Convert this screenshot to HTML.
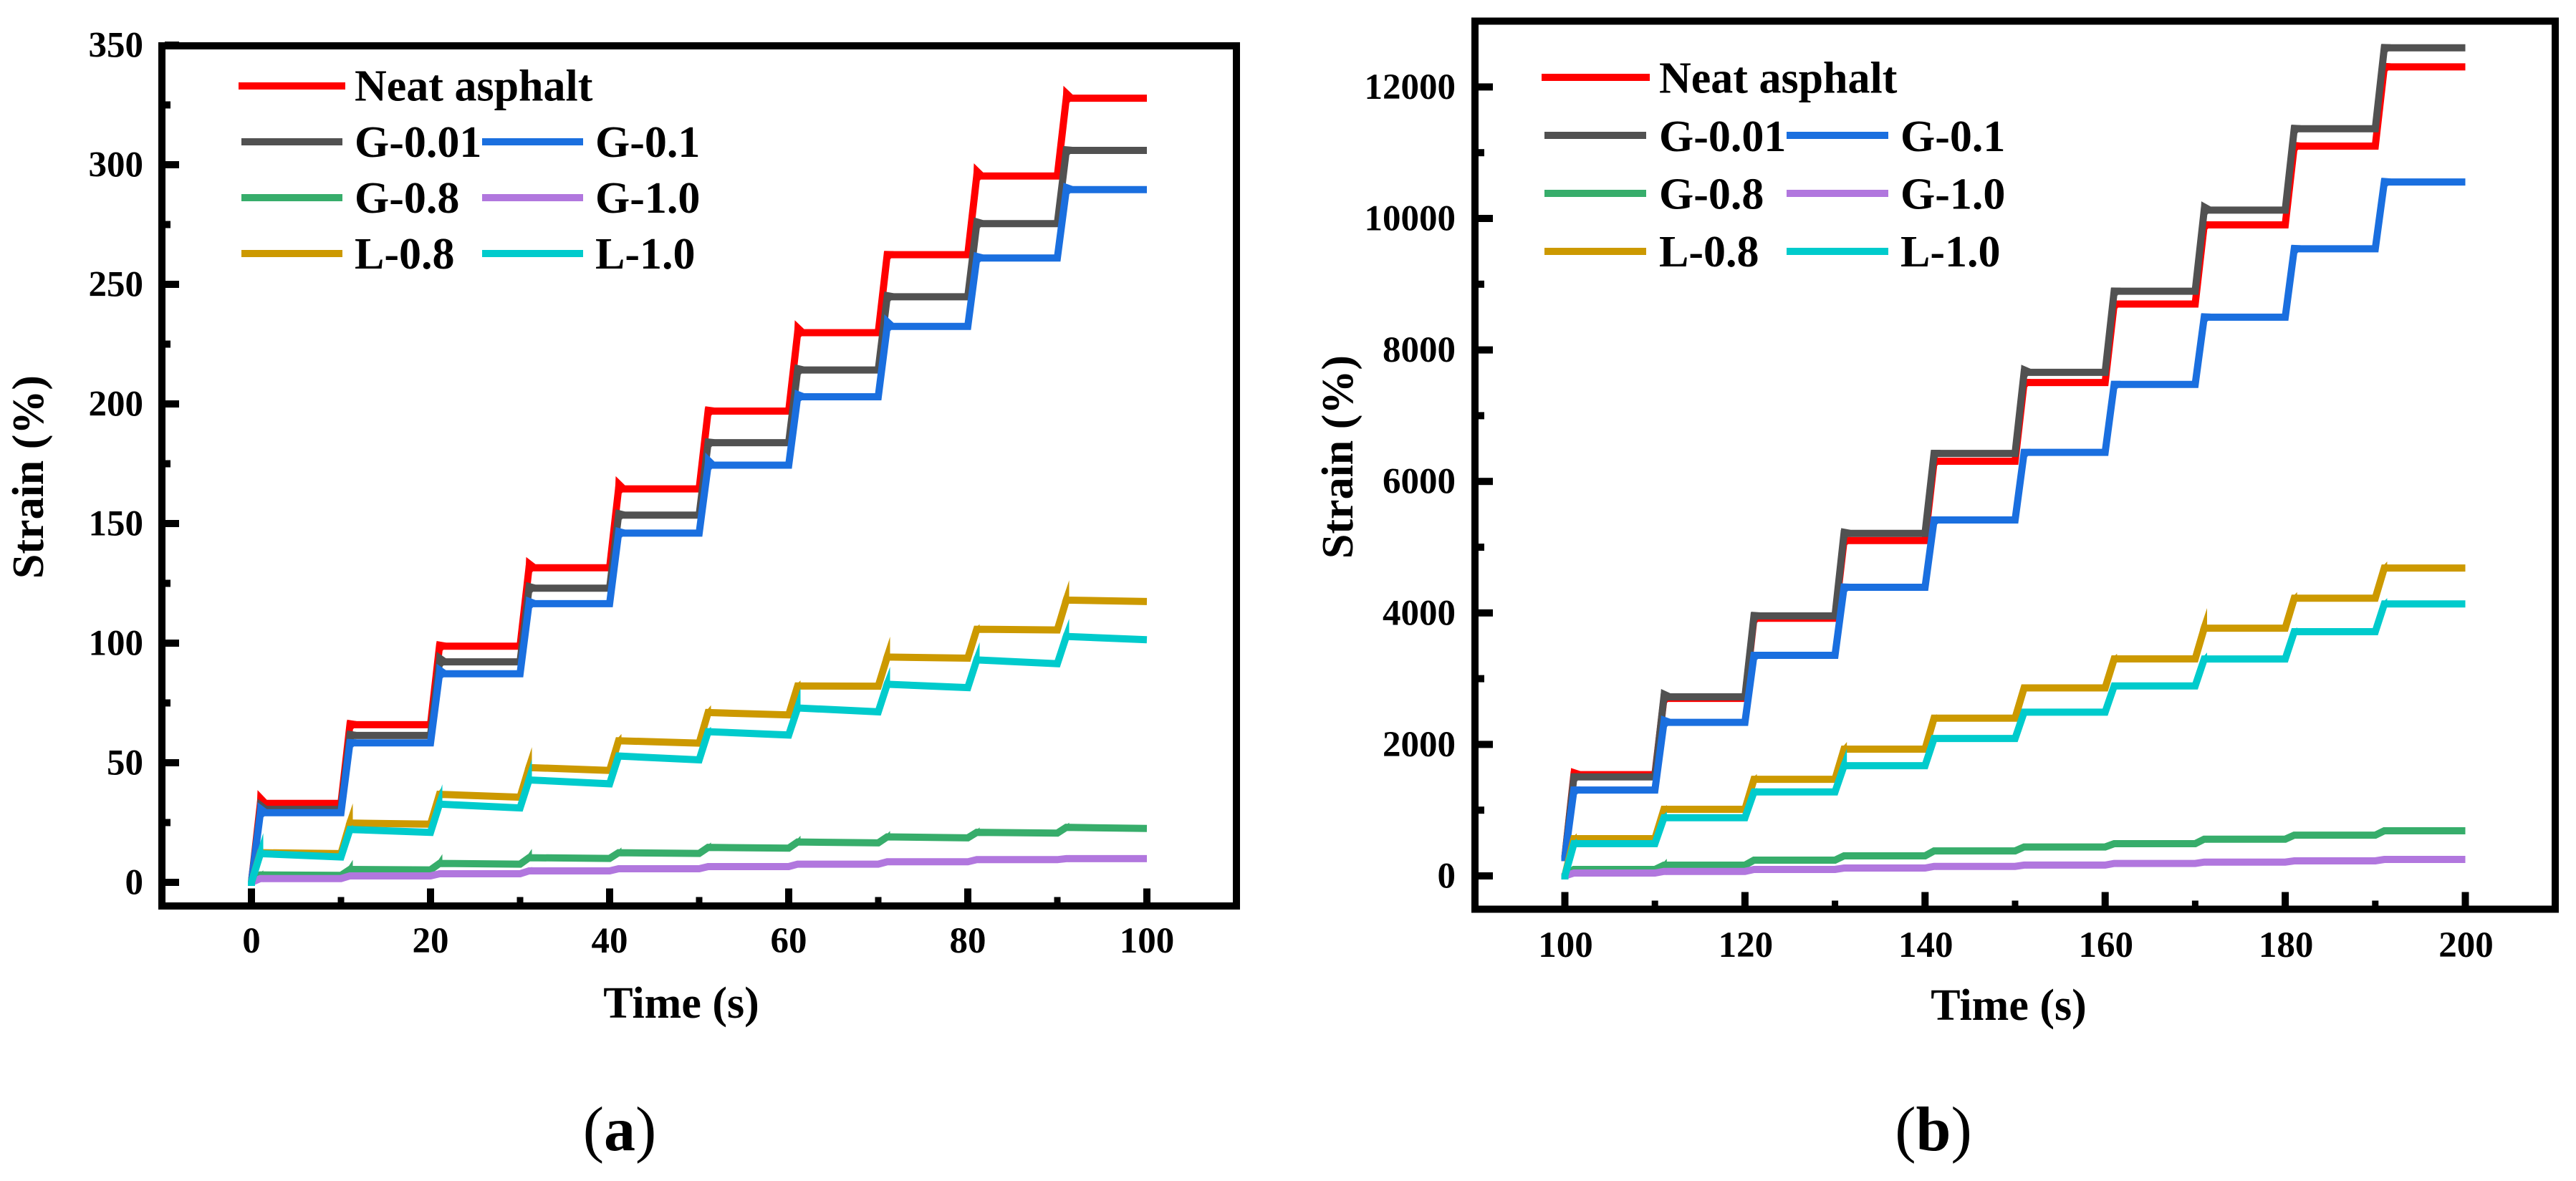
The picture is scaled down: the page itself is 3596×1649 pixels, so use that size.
<!DOCTYPE html>
<html lang="en">
<head>
<meta charset="utf-8">
<title>Strain versus time step curves</title>
<style>
html,body{margin:0;padding:0;background:#fff;width:3596px;height:1649px;overflow:hidden}
svg{display:block}
text{font-family:"Liberation Serif","Times New Roman",serif;font-weight:700;fill:#000}
.tick{font-size:51px}
.title{font-size:62px}
.leg{font-size:62px}
.cap{font-size:88px;font-weight:400}
.cap .b{font-weight:700}
</style>
</head>
<body>
<svg id="figure" xmlns="http://www.w3.org/2000/svg" width="3596" height="1649" viewBox="0 0 3596 1649">
  <g id="panel-a">
    <g id="a-series"></g>
    <rect x="226" y="64" width="1500" height="1201" fill="none" stroke="#000" stroke-width="10"/>
    <g id="a-axes"></g>
    <text class="title" x="951" y="1421" text-anchor="middle">Time (s)</text>
    <text class="title" transform="translate(60 666) rotate(-90)" text-anchor="middle">Strain (%)</text>
    <g>
      <rect x="333" y="115" width="149" height="10" fill="#ff0000"/>
      <text class="leg" x="495" y="140.5">Neat asphalt</text>
      <rect x="337" y="193" width="141" height="10" fill="#515151"/>
      <text class="leg" x="495" y="219">G-0.01</text>
      <rect x="673" y="193" width="141" height="10" fill="#1a6fdf"/>
      <text class="leg" x="831" y="219">G-0.1</text>
      <rect x="337" y="271" width="141" height="10" fill="#37ad6b"/>
      <text class="leg" x="495" y="297">G-0.8</text>
      <rect x="673" y="271" width="141" height="10" fill="#b177de"/>
      <text class="leg" x="831" y="297">G-1.0</text>
      <rect x="337" y="349" width="141" height="10" fill="#cc9900"/>
      <text class="leg" x="495" y="375">L-0.8</text>
      <rect x="673" y="349" width="141" height="10" fill="#00cbcc"/>
      <text class="leg" x="831" y="375">L-1.0</text>
    </g>
    <text class="cap" x="865" y="1606" text-anchor="middle">(<tspan class="b">a</tspan>)</text>
  </g>
  <g id="panel-b">
    <g id="b-series"></g>
    <rect x="2059" y="29.5" width="1508" height="1240" fill="none" stroke="#000" stroke-width="10"/>
    <g id="b-axes"></g>
    <text class="title" x="2804" y="1424" text-anchor="middle">Time (s)</text>
    <text class="title" transform="translate(1888 638) rotate(-90)" text-anchor="middle">Strain (%)</text>
    <g>
      <rect x="2152" y="103" width="151" height="10" fill="#ff0000"/>
      <text class="leg" x="2316" y="129.5">Neat asphalt</text>
      <rect x="2156" y="184" width="142" height="10" fill="#515151"/>
      <text class="leg" x="2316" y="211">G-0.01</text>
      <rect x="2494" y="184" width="142" height="10" fill="#1a6fdf"/>
      <text class="leg" x="2653" y="211">G-0.1</text>
      <rect x="2156" y="265" width="142" height="10" fill="#37ad6b"/>
      <text class="leg" x="2316" y="291.5">G-0.8</text>
      <rect x="2494" y="265" width="142" height="10" fill="#b177de"/>
      <text class="leg" x="2653" y="291.5">G-1.0</text>
      <rect x="2156" y="346" width="142" height="10" fill="#cc9900"/>
      <text class="leg" x="2316" y="372">L-0.8</text>
      <rect x="2494" y="346" width="142" height="10" fill="#00cbcc"/>
      <text class="leg" x="2653" y="372">L-1.0</text>
    </g>
    <text class="cap" x="2699" y="1606" text-anchor="middle">(<tspan class="b">b</tspan>)</text>
  </g>
</svg>
<script>
/* Panel (a) axes */
const aXTicks = ["0", "20", "40", "60", "80", "100"];
const aXMinor = [10, 30, 50, 70, 90];
const aYTicks = ["0", "50", "100", "150", "200", "250", "300", "350"];
const aYMinor = [25, 75, 125, 175, 225, 275, 325];
const aCycles = [0, 10, 20, 30, 40, 50, 60, 70, 80, 90];
const aEndTime = 100;

/* Panel (a) values: level at step start, level at step end, and overshoot tip */
const aNeat = [33, 65.9, 98.7, 131.5, 164.5, 197, 229.8, 262.4, 295.3, 327.8];
const aNeatTip = [38.6, 68, 100.9, 136, 169.8, 199, 235, 264, 300.6, 333];
const aG001 = [30.5, 61.4, 92.2, 123, 153.5, 183.8, 214.2, 244.8, 275.4, 306];
const aG001Tip = [35, 63.5, 96.4, 125.5, 156, 185.7, 216.6, 247, 278, 307.8];
const aG01 = [29.1, 58.3, 87.2, 116.5, 146, 174.4, 203, 232.4, 261, 289.6];
const aG01Tip = [33.5, 60, 91.4, 119.5, 148.5, 179.7, 206, 237.5, 263.5, 292.5];
const aG08 = [3.1, 5.4, 7.9, 10.3, 12.4, 14.6, 16.9, 19, 20.9, 23];
const aG08End = [2.9, 5.2, 7.6, 10, 12.1, 14.3, 16.5, 18.6, 20.6, 22.5];
const aG08Tip = [5, 9.4, 11.8, 14, 14.6, 16.7, 19.5, 21.5, 23, 25];
const aG10 = [1.6, 2.7, 3.6, 4.8, 5.7, 6.6, 7.6, 8.6, 9.5, 9.9];
const aG10Tip = [2.5, 4, 5, 6.5, 7, 8, 9, 10, 11, 11.5];
const aL08 = [12.4, 24.8, 36.8, 48, 59.2, 71, 82.1, 94.2, 105.8, 118];
const aL08End = [12, 24.3, 35.6, 46.8, 58.2, 70, 82, 93.7, 105.5, 117.4];
const aL08Tip = [14, 33, 40, 56.5, 62, 74, 84.4, 102.7, 107.9, 126.3];
const aL10 = [12, 22.1, 32.7, 42.8, 52.8, 63, 72.9, 82.8, 93, 102.8];
const aL10End = [10.6, 20.9, 31.1, 41.2, 51.2, 61.6, 71.3, 81.4, 91.4, 101.4];
const aL10Tip = [20.6, 24, 41, 51.5, 54, 65, 81.4, 90.1, 100.4, 110.2];

/* Panel (b) axes */
const bXTicks = ["100", "120", "140", "160", "180", "200"];
const bXMinor = [110, 130, 150, 170, 190];
const bYTicks = ["0", "2000", "4000", "6000", "8000", "10000", "12000"];
const bYMinor = [1000, 3000, 5000, 7000, 9000, 11000];
const bCycles = [100, 110, 120, 130, 140, 150, 160, 170, 180, 190];
const bEndTime = 200;

/* Panel (b) values */
const bNeat = [1540, 2700, 3919, 5100, 6307, 7504, 8698, 9902, 11100, 12305];
const bNeatTip = [1640, 2750, 3960, 5150, 6360, 7560, 8750, 9960, 11170, 12370];
const bG001 = [1507, 2723, 3954, 5210, 6426, 7659, 8893, 10126, 11364, 12595];
const bG001Tip = [1560, 2843, 4019, 5290, 6480, 7775, 8950, 10260, 11427, 12656];
const bG01 = [1306, 2335, 3355, 4390, 5414, 6442, 7476, 8498, 9538, 10555];
const bG01Tip = [1360, 2440, 3410, 4450, 5460, 6490, 7530, 8560, 9600, 10620];
const bG08 = [98, 163, 240, 305, 380, 440, 490, 559, 620, 686];
const bG08Tip = [150, 260, 285, 350, 420, 480, 540, 610, 670, 740];
const bG10 = [44, 69, 98, 120, 145, 165, 189, 210, 229, 250];
const bG10Tip = [90, 115, 145, 170, 190, 215, 235, 260, 280, 300];
const bL08 = [566, 1013, 1470, 1928, 2400, 2860, 3301, 3768, 4224, 4683];
const bL08Tip = [648, 1078, 1550, 2037, 2460, 2900, 3380, 4074, 4317, 4782];
const bL10 = [490, 886, 1278, 1677, 2090, 2490, 2890, 3300, 3715, 4136];
const bL10Tip = [570, 980, 1340, 1940, 2130, 2530, 2940, 3398, 3780, 4226];
const bStartHigh = 280;
const bStartLow = 0;

const NS = 'http://www.w3.org/2000/svg';
const RED = '#ff0000', GRAY = '#515151', BLUE = '#1a6fdf', GREEN = '#37ad6b', PURPLE = '#b177de', GOLD = '#cc9900', CYAN = '#00cbcc';

function xA(t) { return 351 + t * 12.5; }
function yA(v) { return 1232 - v * 3.34; }
function xB(t) { return 2184.5 + (t - 100) * 12.57; }
function yB(v) { return 1223 - v * 0.0918; }

function drawSeries(host, cycles, endTime, startValue, start, end, tip, tipSide, color, name, x, y) {
  const pts = [[x(cycles[0]), y(startValue) + 5], [x(cycles[0]), y(startValue)]];
  cycles.forEach(function (c, i) {
    const next = i + 1 < cycles.length ? cycles[i + 1] : endTime;
    pts.push([x(c + 1), y(start[i])]);
    pts.push([x(next), y(end[i])]);
  });
  const line = document.createElementNS(NS, 'polyline');
  
  
  line.setAttribute('points', pts.map(function (p) { return p[0].toFixed(1) + ',' + p[1].toFixed(1); }).join(' '));
  line.setAttribute('fill', 'none');
  line.setAttribute('stroke', color);
  line.setAttribute('stroke-width', '10');
  line.setAttribute('stroke-linejoin', 'miter');
  host.appendChild(line);
  cycles.forEach(function (c, i) {
    const cx = x(c + 1), py = y(start[i]), ty = y(tip[i]);
    let shape;
    if (tipSide === 'left') {
      shape = [[cx - 5, py + 6], [cx - 4, ty], [cx + 9, py - 5], [cx + 5, py + 6]];
    } else {
      shape = [[cx - 6, py + 2], [cx + 4, ty], [cx + 4, py + 5]];
    }
    const spike = document.createElementNS(NS, 'polygon');
    
    
    spike.setAttribute('points', shape.map(function (p) { return p[0].toFixed(1) + ',' + p[1].toFixed(1); }).join(' '));
    spike.setAttribute('fill', color);
    host.appendChild(spike);
  });
}

function addRect(host, x, y, w, h, name) {
  const r = document.createElementNS(NS, 'rect');
  
  
  r.setAttribute('x', x);
  r.setAttribute('y', y);
  r.setAttribute('width', w);
  r.setAttribute('height', h);
  r.setAttribute('fill', '#000');
  host.appendChild(r);
}

function addLabel(host, x, y, anchor, str, name) {
  const t = document.createElementNS(NS, 'text');
  
  
  t.setAttribute('class', 'tick');
  t.setAttribute('x', x);
  t.setAttribute('y', y);
  t.setAttribute('text-anchor', anchor);
  t.textContent = str;
  host.appendChild(t);
}

function drawAxes(host, xTicks, xMinor, yTicks, yMinor, x, y, left, bottom, labelRight, xLabelBase, xLabelShift) {
  xTicks.forEach(function (s) {
    const v = Number(s);
    addRect(host, x(v) - 5, bottom - 19.5, 10, 19.5, 'x-axis-major-tick');
    addLabel(host, x(v) + xLabelShift, xLabelBase, 'middle', s, 'x-axis-tick-label');
  });
  xMinor.forEach(function (v) {
    addRect(host, x(v) - 4.5, bottom - 7.5, 9, 7.5, 'x-axis-minor-tick');
  });
  yTicks.forEach(function (s) {
    const v = Number(s);
    addRect(host, left, y(v) - 5, 20, 10, 'y-axis-major-tick');
    addLabel(host, labelRight, y(v) + 16.5, 'end', s, 'y-axis-tick-label');
  });
  yMinor.forEach(function (v) {
    addRect(host, left, y(v) - 5, 8, 10, 'y-axis-minor-tick');
  });
}

const aHost = document.getElementById('a-series');
drawSeries(aHost, aCycles, aEndTime, 0, aNeat, aNeat, aNeatTip, 'left', RED, 'neat-asphalt', xA, yA);
drawSeries(aHost, aCycles, aEndTime, 0, aG001, aG001, aG001Tip, 'left', GRAY, 'g-0.01', xA, yA);
drawSeries(aHost, aCycles, aEndTime, 0, aG01, aG01, aG01Tip, 'left', BLUE, 'g-0.1', xA, yA);
drawSeries(aHost, aCycles, aEndTime, 0, aG08, aG08End, aG08Tip, 'right', GREEN, 'g-0.8', xA, yA);
drawSeries(aHost, aCycles, aEndTime, 0, aG10, aG10, aG10Tip, 'right', PURPLE, 'g-1.0', xA, yA);
drawSeries(aHost, aCycles, aEndTime, 0, aL08, aL08End, aL08Tip, 'right', GOLD, 'l-0.8', xA, yA);
drawSeries(aHost, aCycles, aEndTime, 0, aL10, aL10End, aL10Tip, 'right', CYAN, 'l-1.0', xA, yA);
drawAxes(document.getElementById('a-axes'), aXTicks, aXMinor, aYTicks, aYMinor, xA, yA, 230, 1260, 200, 1330, 0);

const bHost = document.getElementById('b-series');
drawSeries(bHost, bCycles, bEndTime, bStartHigh, bNeat, bNeat, bNeatTip, 'left', RED, 'neat-asphalt', xB, yB);
drawSeries(bHost, bCycles, bEndTime, bStartHigh, bG001, bG001, bG001Tip, 'left', GRAY, 'g-0.01', xB, yB);
drawSeries(bHost, bCycles, bEndTime, bStartHigh, bG01, bG01, bG01Tip, 'left', BLUE, 'g-0.1', xB, yB);
drawSeries(bHost, bCycles, bEndTime, bStartLow, bG08, bG08, bG08Tip, 'right', GREEN, 'g-0.8', xB, yB);
drawSeries(bHost, bCycles, bEndTime, bStartLow, bG10, bG10, bG10Tip, 'right', PURPLE, 'g-1.0', xB, yB);
drawSeries(bHost, bCycles, bEndTime, bStartLow, bL08, bL08, bL08Tip, 'right', GOLD, 'l-0.8', xB, yB);
drawSeries(bHost, bCycles, bEndTime, bStartLow, bL10, bL10, bL10Tip, 'right', CYAN, 'l-1.0', xB, yB);
drawAxes(document.getElementById('b-axes'), bXTicks, bXMinor, bYTicks, bYMinor, xB, yB, 2064, 1265, 2032, 1336, 1);
</script>
</body>
</html>
